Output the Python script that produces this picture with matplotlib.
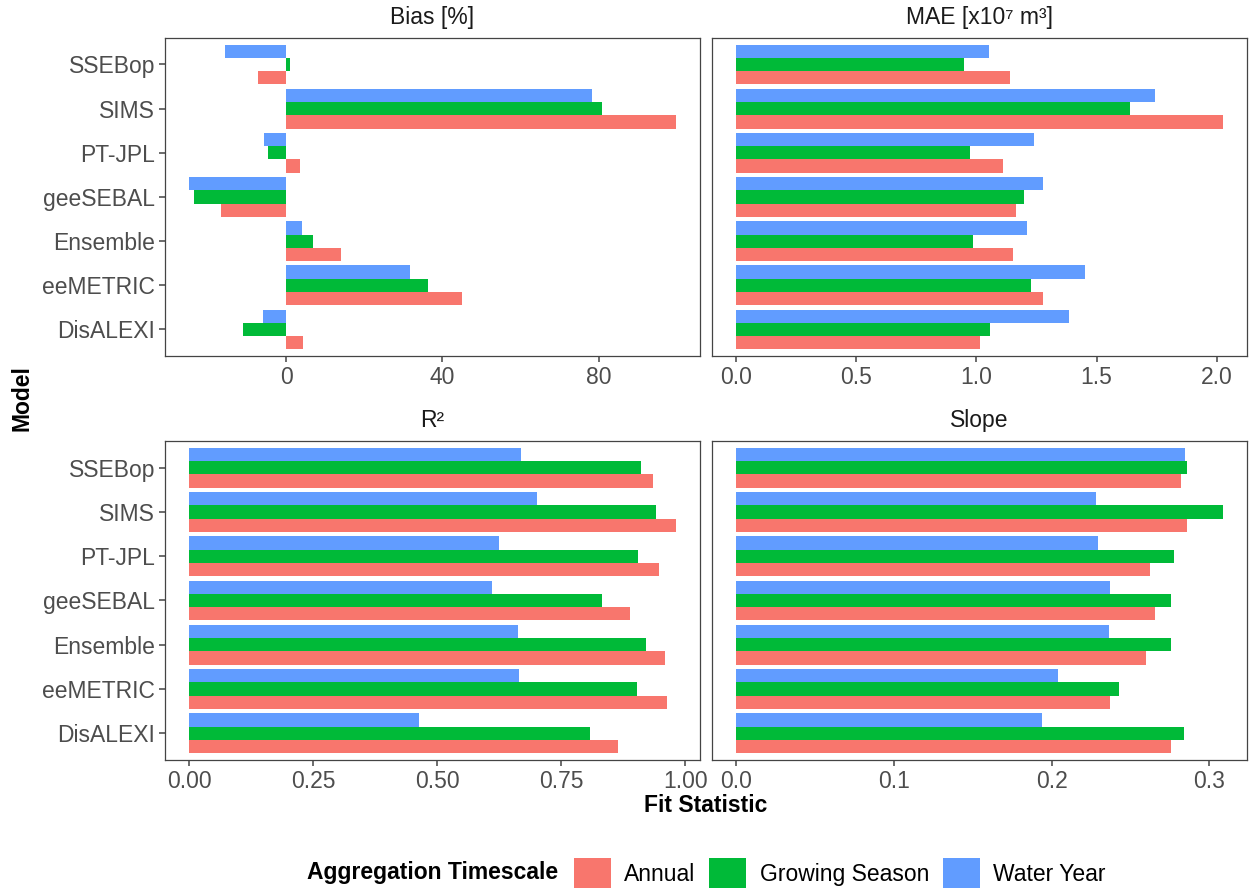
import numpy as np
import matplotlib.pyplot as plt
from matplotlib.patches import Patch

plt.rcParams["font.family"] = ["Liberation Sans", "DejaVu Sans"]

# =========================
# Data
# =========================
models = ["DisALEXI", "eeMETRIC", "Ensemble", "geeSEBAL", "PT-JPL", "SIMS", "SSEBop"]
timescales = ["Annual", "Growing Season", "Water Year"]
colors = ["#F8766D", "#00BA38", "#619CFF"]

bias_annual = [4.3, 45.0, 14.1, -16.6, 3.5, 99.7, -7.1]
bias_growing = [-11.1, 36.3, 6.9, -23.7, -4.7, 80.8, 0.9]
bias_water = [-5.9, 31.6, 4.0, -24.8, -5.8, 78.4, -15.7]

mae_annual = [1.015, 1.276, 1.152, 1.166, 1.109, 2.025, 1.141]
mae_growing = [1.058, 1.225, 0.986, 1.199, 0.974, 1.640, 0.947]
mae_water = [1.386, 1.453, 1.212, 1.276, 1.241, 1.743, 1.052]

r2_annual = [0.864, 0.964, 0.960, 0.888, 0.948, 0.981, 0.935]
r2_growing = [0.808, 0.902, 0.921, 0.833, 0.906, 0.941, 0.911]
r2_water = [0.463, 0.665, 0.663, 0.610, 0.624, 0.701, 0.669]

slope_annual = [0.2756, 0.2371, 0.2598, 0.2653, 0.2624, 0.2856, 0.2820]
slope_growing = [0.2838, 0.2427, 0.2756, 0.2758, 0.2776, 0.3084, 0.2858]
slope_water = [0.1938, 0.2038, 0.2364, 0.2371, 0.2291, 0.2280, 0.2844]

panels = [
    ("Bias [%]", [bias_annual, bias_growing, bias_water], [0, 40, 80], ["0", "40", "80"]),
    ("MAE [x10\u2077 m\u00b3]", [mae_annual, mae_growing, mae_water],
     [0, 0.5, 1.0, 1.5, 2.0], ["0.0", "0.5", "1.0", "1.5", "2.0"]),
    ("R\u00b2", [r2_annual, r2_growing, r2_water],
     [0, 0.25, 0.5, 0.75, 1.0], ["0.00", "0.25", "0.50", "0.75", "1.00"]),
    ("Slope", [slope_annual, slope_growing, slope_water],
     [0, 0.1, 0.2, 0.3], ["0.0", "0.1", "0.2", "0.3"]),
]

# =========================
# Layout (pixel based)
# =========================
W, H = 1251, 894
fig = plt.figure(figsize=(W / 100, H / 100), dpi=100)

cols = [(165, 700), (712, 1247)]
rows = [(38, 356), (441, 760)]

FS = 16.5
TICK_COL = "#4D4D4D"
BORDER = "#444444"

y = np.arange(1, len(models) + 1)
bar_h = 0.3
offsets = [-0.3, 0.0, 0.3]

for i, (title, series, ticks, ticklabels) in enumerate(panels):
    r, c = divmod(i, 2)
    (x0, x1), (y0, y1) = cols[c], rows[r]
    ax = fig.add_axes([x0 / W, 1 - y1 / H, (x1 - x0) / W, (y1 - y0) / H])

    for vals, off, col in zip(series, offsets, colors):
        ax.barh(y + off, vals, height=bar_h, color=col, linewidth=0)

    # ggplot-style 5% expansion around data (incl. zero)
    allv = np.concatenate([np.array(s) for s in series] + [[0.0]])
    lo, hi = allv.min(), allv.max()
    pad = 0.05 * (hi - lo)
    ax.set_xlim(lo - pad, hi + pad)
    ax.set_ylim(0.4, len(models) + 0.6)

    ax.set_xticks(ticks)
    ax.set_xticklabels(ticklabels)
    ax.set_yticks(y)
    ax.set_yticklabels(models if c == 0 else [])

    ax.tick_params(axis="both", labelsize=FS, colors=BORDER, labelcolor=TICK_COL,
                   length=4, width=1.1, pad=3)
    if c == 1:
        ax.tick_params(axis="y", length=0)
    for sp in ax.spines.values():
        sp.set_color(BORDER)
        sp.set_linewidth(0.9)

    ax.annotate(title, xy=(0.5, 1.0), xycoords="axes fraction",
                xytext=(0, 14.5), textcoords="offset points",
                ha="center", va="center", fontsize=FS, color="#1A1A1A")

# axis titles
fig.text(22 / W, 1 - 398 / H, "Model", rotation=90, ha="center", va="center",
         fontsize=FS, fontweight="bold")
fig.text(706 / W, 1 - 806 / H, "Fit Statistic", ha="center", va="center",
         fontsize=FS, fontweight="bold")

# legend
fig.text(307 / W, 1 - 873 / H, "Aggregation Timescale", ha="left", va="center",
         fontsize=FS, fontweight="bold")
handles = [Patch(facecolor=col, edgecolor="none") for col in colors]
fig.legend(handles, timescales, loc="center left", bbox_to_anchor=(574 / W, 1 - 873 / H),
           ncol=3, frameon=False, fontsize=FS, handlelength=1.6, handleheight=1.6,
           handletextpad=0.6, columnspacing=0.6, borderpad=0, borderaxespad=0)

fig.savefig("out.png", dpi=100)
